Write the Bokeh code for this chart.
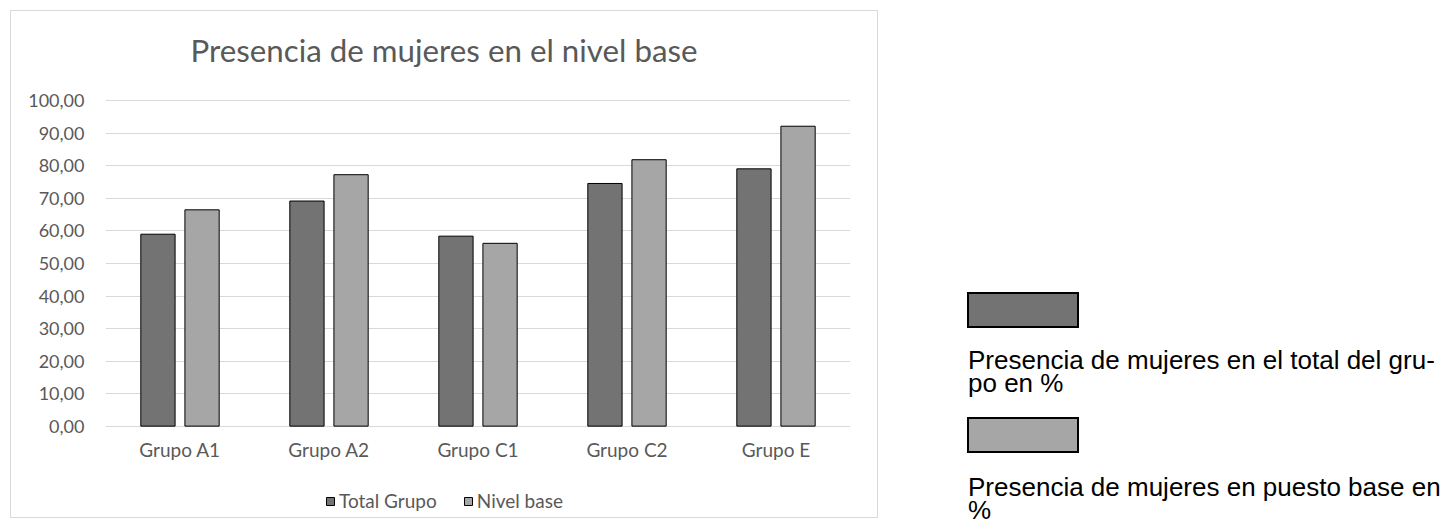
from bokeh.plotting import figure
from bokeh.models import FactorRange, Range1d, Legend, LegendItem, ColumnDataSource, Div
from bokeh.layouts import row
from bokeh.core.properties import value
from bokeh.embed import file_html
from bokeh.resources import INLINE
from bokeh.transform import dodge

# ---- data ----
groups = ["Grupo A1", "Grupo A2", "Grupo C1", "Grupo C2", "Grupo E"]
total_grupo = [59.0, 69.2, 58.4, 74.6, 79.1]
nivel_base = [66.5, 77.3, 56.2, 81.9, 92.2]
series_names = ["Total Grupo", "Nivel base"]
y_ticks = [0, 10, 20, 30, 40, 50, 60, 70, 80, 90, 100]
y_tick_labels = ["0,00", "10,00", "20,00", "30,00", "40,00", "50,00",
                 "60,00", "70,00", "80,00", "90,00", "100,00"]
title_text = "Presencia de mujeres en el nivel base"
side_labels = [
    ["Presencia de mujeres en el total del gru-", "po en %"],
    ["Presencia de mujeres en puesto base en", "%"],
]

# ---- styles / layout constants ----
dark = "#737373"
light = "#a6a6a6"
txt = "#595959"
grid = "#d9d9d9"
main_font = "Lato"

BOX_W, BOX_H = 868, 508           # chart box incl. 1px border
FRAME_TOP_PX, ZERO_PX = 89, 413   # value 100 and value 0, px from canvas top
CANVAS_H = BOX_H - 2
PX_PER_UNIT = (ZERO_PX - FRAME_TOP_PX) / 100.0
Y_LO = -(CANVAS_H - ZERO_PX) / PX_PER_UNIT
Y_HI = ZERO_PX / PX_PER_UNIT
CAT_LABEL_Y = -23 / PX_PER_UNIT   # category labels below the zero line
TITLE_Y = (ZERO_PX - 38) / PX_PER_UNIT
TITLE_X = 2.272                    # in category units (0..5 across the plot)

src = ColumnDataSource(dict(groups=groups, total=total_grupo, nivel=nivel_base))

p = figure(x_range=FactorRange(*groups), y_range=Range1d(Y_LO, Y_HI),
           width=BOX_W, height=BOX_H, output_backend="svg", toolbar_location=None,
           title=None,
           min_border_left=94, min_border_right=29, min_border_top=0,
           min_border_bottom=0)
p.margin = (10, 0, 0, 10)
p.styles = {"border": "1px solid #d9d9d9"}
p.outline_line_color = None
p.background_fill_color = "white"

r1 = p.vbar(x=dodge("groups", -0.148, range=p.x_range), top="total", width=0.23,
            source=src, fill_color=dark, line_color="black", line_width=1)
r2 = p.vbar(x=dodge("groups", 0.148, range=p.x_range), top="nivel", width=0.23,
            source=src, fill_color=light, line_color="black", line_width=1)

# title
p.text(x=[TITLE_X], y=[TITLE_Y], text=[title_text], text_font=value(main_font),
       text_font_size="31.3px", text_color=txt, text_align="center",
       text_baseline="middle")

# category labels, placed by the categorical x scale
p.text(x=groups, y=[CAT_LABEL_Y] * len(groups), text=groups,
       text_font=value(main_font), text_font_size="19px", text_color=txt,
       text_align="center", text_baseline="middle")

p.xgrid.grid_line_color = None
p.ygrid.grid_line_color = grid
p.ygrid.ticker = y_ticks
p.xaxis.visible = False

p.yaxis.ticker = y_ticks
p.yaxis.major_label_overrides = {t: l for t, l in zip(y_ticks, y_tick_labels)}
p.yaxis.axis_line_color = None
p.yaxis.major_tick_line_color = None
p.yaxis.minor_tick_line_color = None
p.yaxis.major_tick_out = 0
p.yaxis.major_tick_in = 0
p.yaxis.minor_tick_out = 0
p.yaxis.major_label_text_font = main_font
p.yaxis.major_label_text_color = txt
p.yaxis.major_label_standoff = 21
p.yaxis.major_label_text_font_size = "18px"

legend = Legend(items=[LegendItem(label=series_names[0], renderers=[r1]),
                       LegendItem(label=series_names[1], renderers=[r2])],
                orientation="horizontal", location=(220, 7),
                border_line_color=None, background_fill_alpha=0,
                padding=0, margin=0, glyph_width=10, glyph_height=10,
                label_standoff=4, spacing=26, label_height=20,
                label_text_font=main_font, label_text_font_size="19px",
                label_text_color=txt)
p.add_layout(legend)

# ---- side legend (HTML, outside the chart box) ----
sw_style = ("position:absolute;left:89px;width:112px;height:36px;box-sizing:border-box;"
            "border:2px solid black;background:{c};top:{t}px")
tx_style = ("position:absolute;left:90px;top:{t}px;white-space:nowrap;"
            "line-height:23px")
html = (
    '<div style="position:relative;width:570px;height:524px;'
    'font-family:\'Liberation Sans\',Arial,sans-serif;font-size:26px;color:#000">'
    f'<div style="{sw_style.format(c=dark, t=292)}"></div>'
    f'<div style="{tx_style.format(t=349)}">{side_labels[0][0]}<br>{side_labels[0][1]}</div>'
    f'<div style="{sw_style.format(c=light, t=417)}"></div>'
    f'<div style="{tx_style.format(t=476)}">{side_labels[1][0]}<br>{side_labels[1][1]}</div>'
    '</div>'
)
side = Div(text=html, width=570, height=524, margin=0)

layout = row(p, side)
open("out.html", "w").write(file_html(layout, INLINE))
